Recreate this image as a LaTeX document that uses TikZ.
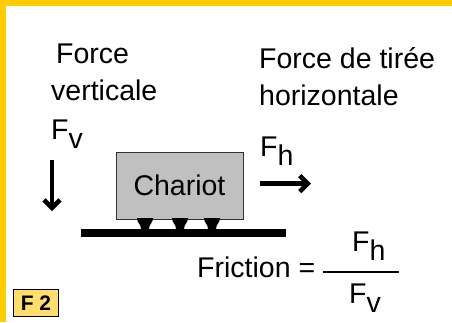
\documentclass[tikz,border=0pt]{standalone}
\usepackage{fontspec}
\setmainfont{Liberation Sans}
\usetikzlibrary{arrows.meta}
\definecolor{bandyellow}{RGB}{255,204,0}
\definecolor{tagyellow}{RGB}{255,222,110}
\definecolor{cartgray}{RGB}{192,192,192}
\tikzset{
    txt/.style = {
        inner sep=0, anchor=base west,
        font=\fontsize{28.5}{34}\selectfont
    },
    cart/.style = {
        rectangle, draw=black!80, fill=cartgray, line width=1pt,
        minimum width=127pt, minimum height=67pt,
        font=\fontsize{28.5}{34}\selectfont
    },
    tag/.style = {
        rectangle, draw, fill=tagyellow, line width=1.6pt,
        minimum width=45pt, minimum height=27pt, inner sep=0,
        font=\fontsize{21}{24}\selectfont\bfseries
    },
    force/.style = {
        -{Straight Barb[length=8pt, width=16pt]}, line width=4.6pt
    }
}
\newcommand{\subdown}[1]{\lower9pt\hbox{#1}}

\begin{document}
\begin{tikzpicture}[x=1pt, y=-1pt]

\useasboundingbox (0,0) rectangle (452,322);
\fill[white] (0,0) rectangle (452,322);
\fill[bandyellow] (0,0) rectangle (452,6);
\fill[bandyellow] (0,0) rectangle (6,322);

\node (force) [txt] at (56,63) {Force};
\node (vert) [txt] at (51,100) {verticale};
\node (fv) [txt] at (51,139) {F\subdown{v}};

\node (pull) [txt] at (259,68) {Force de tirée};
\node (horiz) [txt] at (259,105) {horizontale};
\node (fh) [txt] at (260,156) {F\subdown{h}};

\node (chariot) [cart] at (179.5,185.5) {Chariot};
\foreach \cx in {145,180,212}
    \fill (\cx-8,218) -- (\cx+8,218) .. controls (\cx+8,223) and (\cx+4,224) .. (\cx+4,229)
        -- (\cx-4,229) .. controls (\cx-4,224) and (\cx-8,223) .. cycle;
\fill (81,229) rectangle (286,237);

\coordinate (vtail) at (52,160);
\coordinate (vtip) at (52,211);
\draw [force] (vtail) -- (vtip);
\coordinate (htail) at (260,183.5);
\coordinate (htip) at (311,183.5);
\draw [force] (htail) -- (htip);

\node (friction) [txt] at (197,277) {Friction =};
\node (num) [txt] at (352,251) {F\subdown{h}};
\node (den) [txt] at (349,303) {F\subdown{v}};
\draw [line width=1.4pt] (323,272) -- (399,272);

\node (fig) [tag] at (36,303) {F 2};

\end{tikzpicture}
\end{document}
